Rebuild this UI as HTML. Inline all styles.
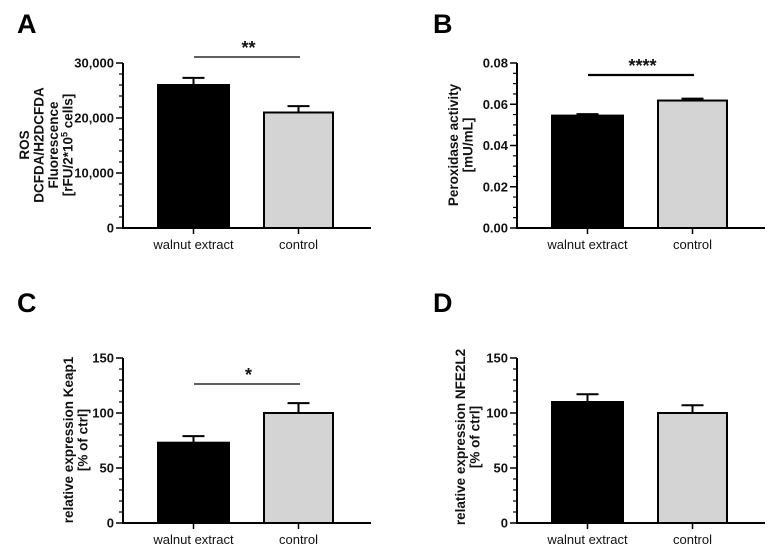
<!DOCTYPE html>
<html><head><meta charset="utf-8"><style>
body{margin:0;background:#fff}
svg{display:block;font-family:"Liberation Sans",Arial,sans-serif}
</style></head><body>
<svg id="fig" width="778" height="553" viewBox="0 0 778 553"></svg>
<script>
const categories = ["walnut extract","control"];
const valuesA = [26000, 21000];
const errorsA = [1300, 1150];
const valuesB = [0.0545, 0.0618];
const errorsB = [0.0007, 0.0009];
const valuesC = [73, 100];
const errorsC = [6, 9];
const valuesD = [110, 100];
const errorsD = [7, 7];
const ticksA = [0, 10000, 20000, 30000];
const tickLabelsA = ["0","10,000","20,000","30,000"];
const ticksB = [0, 0.02, 0.04, 0.06, 0.08];
const tickLabelsB = ["0.00","0.02","0.04","0.06","0.08"];
const ticksC = [0, 50, 100, 150];
const tickLabelsC = ["0","50","100","150"];

const NS="http://www.w3.org/2000/svg";
const svg=document.getElementById('fig');
function mk(tag,attrs,parent,text){const e=document.createElementNS(NS,tag);for(const k in attrs)e.setAttribute(k,attrs[k]);if(text!==undefined)e.textContent=text;(parent||svg).appendChild(e);return e;}

function panel(cfg){
  const g=mk('g',{});
  
  
  const ax=cfg.ax, y0=cfg.y0, yTop=cfg.yTop, max=cfg.max;
  const ys=v=>y0-(v/max)*(y0-yTop);
  const xOff=ax-123;
  const bx=[[158+xOff,229+xOff],[264+xOff,333+xOff]];
  // letter
  const L=mk('text',{x:cfg.lx,y:cfg.ly,'font-size':27,'font-weight':'bold',fill:'#000'},g,cfg.id);
  
  
  // bars
  cfg.vals.forEach((v,i)=>{
    const cx=(bx[i][0]+bx[i][1])/2;
    const te=ys(v+cfg.errs[i]);
    const el=mk('line',{x1:cx,x2:cx,y1:ys(v),y2:te,stroke:'#000','stroke-width':2},g);
    
    
    const cap=mk('line',{x1:cx-11,x2:cx+11,y1:te,y2:te,stroke:'#000','stroke-width':2},g);
    
    
    const r=mk('rect',{x:bx[i][0],y:ys(v),width:bx[i][1]-bx[i][0],height:y0-ys(v),fill:i==0?'#000':'#d4d4d4',stroke:'#000','stroke-width':2},g);
    
    
    const xt=mk('line',{x1:cx,x2:cx,y1:y0,y2:y0+6,stroke:'#000','stroke-width':1.5},g);
    
    
    const xl=mk('text',{x:cx,y:y0+21,'font-size':13,'text-anchor':'middle',fill:'#111'},g,categories[i]);
    
    
  });
  // axes
  const ya=mk('line',{x1:ax,x2:ax,y1:yTop,y2:y0+1,stroke:'#000','stroke-width':2},g);
  
  
  const xa=mk('line',{x1:ax-1,x2:ax+248,y1:y0,y2:y0,stroke:'#000','stroke-width':2},g);
  
  
  // minor ticks
  const step=cfg.ticks[1]-cfg.ticks[0];
  for(let k=0;k<cfg.ticks.length-1;k++)for(let m=1;m<cfg.minor;m++){
    const y=ys(cfg.ticks[k]+step*m/cfg.minor);
    const t=mk('line',{x1:ax-4,x2:ax,y1:y,y2:y,stroke:'#000','stroke-width':1.2},g);
    
    
  }
  cfg.ticks.forEach((t,i)=>{
    const y=ys(t);
    const tl=mk('line',{x1:ax-7,x2:ax,y1:y,y2:y,stroke:'#000','stroke-width':1.5},g);
    
    
    const tx=mk('text',{x:ax-9,y:y+4.5,'font-size':13,'font-weight':'bold','text-anchor':'end',fill:'#111'},g,cfg.labels[i]);
    
    
  });
  // title
  const tt=mk('text',{transform:`translate(${cfg.tx},${cfg.ty}) rotate(-90)`,'font-size':13.5,'font-weight':'bold','text-anchor':'middle',fill:'#111'},g);
  
  
  cfg.title.forEach((line,i)=>{
    const ts=mk('tspan',{x:0,dy:i==0?0:14.5},tt);
    if(Array.isArray(line)){ts.appendChild(document.createTextNode(line[0]));mk('tspan',{'font-size':9,dy:-5},tt,line[1]);mk('tspan',{dy:5},tt,line[2]);}
    else ts.textContent=line;
  });
  // significance
  if(cfg.sig){
    const sl=mk('line',{x1:bx[0][0]+36,x2:bx[1][1]-33,y1:cfg.sigY,y2:cfg.sigY,stroke:'#000','stroke-width':cfg.sigW},g);
    
    
    const st=mk('text',{x:(bx[0][0]+bx[1][1])/2+3,y:cfg.sigY-3,'font-size':18,'font-weight':'bold','text-anchor':'middle',fill:'#111'},g,cfg.sig);
    
    
  }
}
panel({id:'A',lx:17,ly:33,ax:123,y0:228,yTop:63,max:30000,ticks:ticksA,labels:tickLabelsA,minor:5,vals:valuesA,errs:errorsA,
  tx:29,ty:145,title:['ROS','DCFDA/H2DCFDA','Fluorescence',['[rFU/2*10','5',' cells]']],sig:'**',sigY:57,sigW:1.3});
panel({id:'B',lx:433,ly:33,ax:517,y0:228,yTop:63,max:0.08,ticks:ticksB,labels:tickLabelsB,minor:4,vals:valuesB,errs:errorsB,
  tx:458,ty:145,title:['Peroxidase activity','[mU/mL]'],sig:'****',sigY:75,sigW:2.2});
panel({id:'C',lx:17,ly:312,ax:123,y0:523,yTop:358,max:150,ticks:ticksC,labels:tickLabelsC,minor:5,vals:valuesC,errs:errorsC,
  tx:73,ty:440,title:['relative expression Keap1','[% of ctrl]'],sig:'*',sigY:384,sigW:1.3});
panel({id:'D',lx:433,ly:312,ax:517,y0:523,yTop:358,max:150,ticks:ticksC,labels:tickLabelsC,minor:5,vals:valuesD,errs:errorsD,
  tx:465,ty:437,title:['relative expression NFE2L2','[% of ctrl]']});
</script>
</body></html>
